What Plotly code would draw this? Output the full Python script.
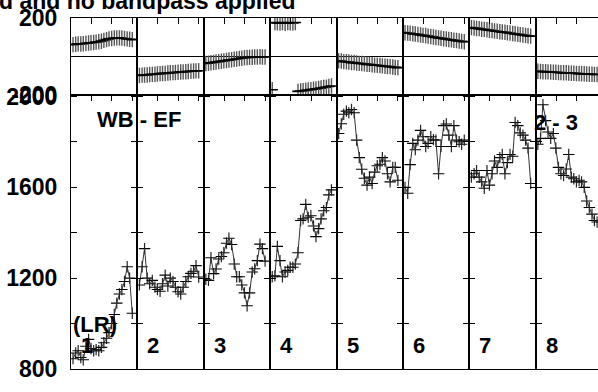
import plotly.graph_objects as go
from plotly.subplots import make_subplots

# ---------------- data ----------------
title_text = "d and no bandpass applied"
baseline_left = "WB - EF"
baseline_right = "2 - 3"
pol_label = "(LR)"
if_labels = ["1", "2", "3", "4", "5", "6", "7", "8"]

chan_x = [0.10, 0.23, 0.35, 0.48, 0.60, 0.73, 0.86, 0.98, 1.11, 1.23, 1.36, 1.49,
          1.61, 1.74, 1.86, 1.99, 2.12, 2.24, 2.37, 2.49, 2.62, 2.75, 2.87, 3.00]

amp_1 = [845, 870, 880, 850, 840, 900, 930, 890, 880, 885, 880, 895, 915, 935, 960, 1000, 1040, 1090, 1130, 1150, 1185, 1250, 1200, 1045]
amp_2 = [1170, 1250, 1330, 1200, 1175, 1190, 1160, 1150, 1142, 1175, 1213, 1165, 1200, 1185, 1160, 1140, 1130, 1160, 1185, 1206, 1221, 1230, 1255, 1205]
amp_3 = [1195, 1190, 1290, 1220, 1240, 1284, 1295, 1312, 1354, 1376, 1348, 1262, 1206, 1206, 1170, 1135, 1078, 1135, 1227, 1241, 1277, 1350, 1330, 1275]
amp_4 = [1206, 1210, 1340, 1277, 1206, 1227, 1234, 1248, 1248, 1262, 1312, 1454, 1461, 1525, 1468, 1475, 1430, 1383, 1418, 1461, 1497, 1511, 1567, 1589]
amp_5 = [1837, 1880, 1922, 1936, 1929, 1943, 1929, 1808, 1731, 1680, 1640, 1610, 1645, 1617, 1667, 1695, 1702, 1731, 1716, 1660, 1624, 1688, 1688, 1631]
amp_6 = [1600, 1574, 1700, 1794, 1766, 1808, 1851, 1823, 1780, 1794, 1823, 1810, 1808, 1660, 1780, 1872, 1879, 1830, 1780, 1872, 1808, 1801, 1790, 1808]
amp_7 = [1645, 1660, 1674, 1645, 1624, 1596, 1674, 1610, 1660, 1716, 1688, 1731, 1745, 1660, 1709, 1745, 1737, 1886, 1872, 1840, 1830, 1808, 1773, 1617]
amp_8 = [1790, 1816, 1964, 1894, 1844, 1816, 1837, 1773, 1688, 1660, 1652, 1681, 1745, 1645, 1638, 1624, 1631, 1624, 1600, 1540, 1511, 1482, 1454, 1447]

phase_1 = [62, 64, 66, 65, 67, 69, 70, 72, 73, 75, 77, 80, 84, 88, 92, 94, 96, 97, 97, 96, 94, 92, 90, 88]
phase_2 = [-98, -96, -95, -95, -93, -92, -91, -90, -88, -87, -87, -85, -84, -83, -82, -81, -80, -79, -78, -77, -76, -75, -74, -73]
phase_3 = [-36, -34, -32, -30, -28, -26, -24, -22, -20, -18, -16, -14, -12, -10, -8, -6, -5, -4, -3, -2, -2, -1, -2, -2]
phase_4 = [-172, 176, 175, 174, 177, 173, 176, 175, 174, 177, -180, -178, -177, -175, -173, -171, -169, -167, -165, -163, -160, -158, -155, -152]
phase_5 = [-22, -23, -26, -27, -28, -31, -31, -33, -35, -36, -37, -40, -40, -42, -44, -45, -46, -48, -50, -51, -52, -54, -56, -57]
phase_6 = [124, 122, 121, 118, 117, 115, 112, 110, 109, 106, 104, 102, 99, 97, 95, 93, 91, 89, 87, 85, 83, 81, 79, 77]
phase_7 = [150, 148, 146, 145, 142, 141, 139, 137, 135, 133, 131, 129, 127, 126, 124, 122, 120, 118, 116, 114, 112, 110, 108, 106]
phase_8 = [-76, -77, -78, -78, -79, -80, -81, -81, -82, -83, -84, -84, -85, -86, -86, -87, -88, -89, -89, -90, -91, -91, -92, -93]

amp_series = [amp_1, amp_2, amp_3, amp_4, amp_5, amp_6, amp_7, amp_8]
phase_series = [phase_1, phase_2, phase_3, phase_4, phase_5, phase_6, phase_7, phase_8]

amp_err = 25
phase_err = 40
chan_halfwidth = 0.28

amp_ticks = [800, 1000, 1200, 1400, 1600, 1800, 2000]
amp_tick_text = ["800", "", "1200", "", "1600", "", "2000"]
phase_ticks = [-200, 200]
phase_tick_text = ["-200", "200"]

# ---------------- layout geometry ----------------
panel_w = [66.4] * 7 + [62.2]
unit_px = 20.43
n = 8

fig = make_subplots(rows=3, cols=n, column_widths=panel_w, row_heights=[80, 284, 10],
                    horizontal_spacing=0, vertical_spacing=0)

FONT = "Liberation Sans, Arial, Helvetica, sans-serif"

for i in range(n):
    fig.add_trace(go.Scatter(
        x=chan_x, y=phase_series[i], mode="markers",
        marker=dict(size=1, color="#111"),
        error_x=dict(type="constant", value=chan_halfwidth, width=0, color="#000", thickness=1.6),
        error_y=dict(type="constant", value=phase_err, width=0, color="#555", thickness=1.4),
        showlegend=False, hoverinfo="skip"), row=1, col=i + 1)
    fig.add_trace(go.Scatter(
        x=chan_x, y=amp_series[i], mode="lines",
        line=dict(color="#333", width=1),
        error_x=dict(type="constant", value=chan_halfwidth, width=0, color="#000", thickness=1.1),
        error_y=dict(type="constant", value=amp_err, width=0, color="#222", thickness=1.2),
        showlegend=False, hoverinfo="skip"), row=2, col=i + 1)

tickfont = dict(family=FONT, size=23, color="black", weight="bold")

for c in range(1, n + 1):
    xr = [0, panel_w[c - 1] / unit_px]
    last = (c == n)
    for r in (1, 2, 3):
        fig.update_xaxes(row=r, col=c, range=xr, side="top", ticks="inside", ticklen=6,
                         tickwidth=1, tickcolor="black", tick0=0, dtick=1,
                         showticklabels=False, showline=True, linecolor="black",
                         linewidth=1, mirror=True, showgrid=False, zeroline=False)
    fig.update_yaxes(row=1, col=c, range=[-200, 200], tickvals=phase_ticks,
                     ticktext=phase_tick_text, ticks="", showticklabels=(c == 1),
                     tickfont=tickfont, ticklabelstandoff=8,
                     showline=True, linecolor="black", linewidth=1,
                     mirror=(not last), showgrid=False, zeroline=True,
                     zerolinecolor="black", zerolinewidth=1)
    fig.update_yaxes(row=2, col=c, range=[798, 2006], tickvals=amp_ticks,
                     ticktext=amp_tick_text, ticks="inside", ticklen=6, tickwidth=1,
                     tickcolor="black", showticklabels=(c == 1), tickfont=tickfont,
                     ticklabelstandoff=8,
                     showline=True, linecolor="black", linewidth=1,
                     mirror=("ticks" if not last else False), showgrid=False, zeroline=False)
    fig.update_yaxes(row=3, col=c, range=[-200, 200], ticks="", showticklabels=False,
                     showline=True, linecolor="black", linewidth=1,
                     mirror=(not last), showgrid=False, zeroline=False)

# ---------------- labels ----------------
lab_font = dict(family=FONT, size=22, color="black", weight="bold")
title_font = dict(family=FONT, size=23, color="black", weight="bold")
annotations = []
for i, lab in enumerate(if_labels):
    ax = 9 + i
    frac = 16 / panel_w[i]
    annotations.append(dict(text=lab, xref=f"x{ax} domain", yref=f"y{ax} domain",
                            x=frac, y=0.088, xanchor="center", yanchor="middle",
                            showarrow=False, font=lab_font))
annotations.append(dict(text=pol_label, xref="x9 domain", yref="y9 domain",
                        x=0.36, y=0.162, xanchor="center", yanchor="middle",
                        showarrow=False, font=lab_font))
annotations.append(dict(text=baseline_left, xref="x9 domain", yref="y9 domain",
                        x=1.024, y=0.91, xanchor="center", yanchor="middle",
                        showarrow=False, font=lab_font))
annotations.append(dict(text=baseline_right, xref="x16 domain", yref="y16 domain",
                        x=0.325, y=0.90, xanchor="center", yanchor="middle",
                        showarrow=False, font=lab_font))
annotations.append(dict(text=title_text, xref="paper", yref="paper",
                        x=(297 - 71) / 527, y=1.047, xanchor="right", yanchor="middle",
                        showarrow=False, font=title_font))

fig.update_layout(width=598, height=392, margin=dict(l=71, r=0, t=18, b=0),
                  paper_bgcolor="white", plot_bgcolor="white",
                  annotations=annotations, showlegend=False)

fig.write_html("out.html", config={"displayModeBar": False},
               post_script="document.body.style.margin='0px';")
